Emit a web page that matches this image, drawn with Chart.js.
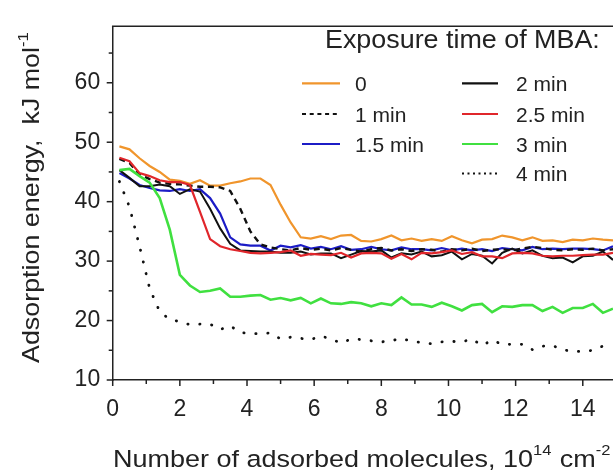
<!DOCTYPE html>
<html><head><meta charset="utf-8">
<script src="https://cdn.jsdelivr.net/npm/chart.js@4/dist/chart.umd.min.js"></script>
<style>html,body{margin:0;padding:0;background:#fff;}canvas{display:block;}</style>
</head><body>
<canvas id="c" width="613" height="471"></canvas>
<script>
// ---- data ----
const coverage = [0.2,0.5,0.8,1.1,1.4,1.7,2.0,2.3,2.6,2.9,3.2,3.5,3.8,4.1,4.4,4.7,5.0,5.3,5.6,5.9,6.2,6.5,6.8,7.1,7.4,7.7,8.0,8.3,8.6,8.9,9.2,9.5,9.8,10.1,10.4,10.7,11.0,11.3,11.6,11.9,12.2,12.5,12.8,13.1,13.4,13.7,14.0,14.3,14.6,14.9];
const energy0min = [49.3,48.8,47.3,46.0,45.0,43.7,43.5,43.0,43.6,42.7, 42.7,43.1,43.4,43.9,43.9,42.8,39.5,36.5,34.0,33.8, 34.2,33.7,34.3,34.4,33.4,33.3,33.7,34.3,33.5,33.8, 33.4,33.7,33.4,34.2,33.5,33.0,33.6,33.7,34.3,34.0, 33.5,34.0,33.4,33.5,33.2,33.6,33.5,33.8,33.6,33.5];
const energy1min = [47.2,46.5,44.6,43.8,43.2,43.0,42.9,42.7,42.5,42.5, 42.4,41.8,38.8,35.0,32.8,32.3,32.0,31.8,32.2,31.9, 32.1,31.8,32.2,31.9,31.6,32.0,32.2,31.8,32.0,31.7, 32.0,31.9,31.6,32.0,31.8,32.1,31.7,31.9,32.0,31.8, 32.1,32.4,32.2,31.9,31.8,32.0,31.9,32.1,31.8,32.0];
const energy15min = [44.8,43.9,42.8,42.3,41.9,41.8,42.1,41.8,42.1,40.6, 38.0,34.0,32.8,32.6,32.6,31.8,32.6,32.3,32.7,32.1, 32.4,32.0,32.5,31.9,32.0,32.4,32.0,31.8,32.3,32.0, 32.0,31.8,32.2,31.8,32.1,31.8,32.0,31.7,32.2,32.0, 31.8,32.4,32.0,32.1,32.0,32.1,32.1,32.0,31.8,32.5];
const energy2min = [45.3,44.0,42.6,42.6,42.9,42.6,41.3,42.1,41.7,38.8, 35.5,32.9,31.8,31.7,31.6,31.6,31.4,31.4,31.6,31.1, 31.3,31.3,30.5,31.1,31.7,31.6,31.8,30.6,31.3,31.1, 31.6,30.8,31.0,31.6,30.3,31.2,30.9,29.6,31.4,32.1, 31.3,31.8,30.9,30.5,30.6,29.8,30.8,30.9,31.6,30.2];
const energy25min = [47.4,46.8,44.8,44.3,43.6,43.3,43.3,42.8,38.3,33.7, 32.5,32.0,31.7,31.4,31.3,31.4,31.5,31.8,30.9,31.2, 31.1,31.0,31.4,30.6,31.3,31.4,31.3,30.4,31.2,30.3, 31.4,31.3,31.5,31.8,31.2,31.5,30.8,30.8,30.5,31.3, 31.4,31.3,30.9,30.8,30.9,30.9,31.0,31.1,31.1,31.4];
const energy3min = [45.3,45.5,44.3,43.2,40.6,35.3,27.7,25.9,24.8,25.0, 25.4,24.0,24.0,24.2,24.3,23.5,23.8,23.4,23.8,22.9, 23.7,22.9,22.8,23.1,22.9,22.4,22.9,22.6,23.9,22.7, 22.7,22.3,23.0,22.4,21.7,22.6,22.8,21.4,22.4,22.3, 22.6,22.6,21.6,22.3,21.3,22.1,22.1,22.8,21.3,22.0];
const energy4min = [43.4,39.1,32.5,25.4,21.5,20.2,19.8,19.3,19.4,19.4, 18.5,19.1,18.0,17.8,17.8,17.9,16.9,17.2,17.0,16.8, 17.4,16.9,16.2,16.9,16.8,16.6,16.4,16.6,17.0,16.5, 16.3,16.1,16.4,16.5,16.4,16.9,15.8,16.7,16.0,16.0, 16.0,15.1,15.7,15.8,15.1,14.8,14.8,15.0,15.7,15.5];
const seriesNames = ['0','1 min','1.5 min','2 min','2.5 min','3 min','4 min'];
const xTicks = [0,2,4,6,8,10,12,14];
const xMinorTicks = [1,3,5,7,9,11,13];
const yTicks = [10,20,30,40,50,60];
const yMinorTicks = [15,25,35,45,55,65];
const legendTitle = 'Exposure time of MBA:';
const xTitleParts = [['Number of adsorbed molecules, 10',false],['14',true],[' cm',false],['-2',true]];
const yTitleParts = [['Adsorption energy,  kJ mol',false],['-1',true]];

// ---- styles ----
const FONT = "'Liberation Sans', Arial, sans-serif";
const styles = [
  {color:'#F0952C', dash:[], width:2.2, cap:'butt', legendDash:[]},
  {color:'#111111', dash:[6,4.7], width:2.4, cap:'butt', legendDash:[4,3.7]},
  {color:'#1C1CC6', dash:[], width:2.2, cap:'butt', legendDash:[]},
  {color:'#111111', dash:[], width:2.0, cap:'butt', legendDash:[]},
  {color:'#E0262B', dash:[], width:2.2, cap:'butt', legendDash:[]},
  {color:'#40E040', dash:[], width:2.6, cap:'butt', legendDash:[]},
  {color:'#111111', dash:[0.3,11.7], width:2.8, cap:'round', legendDash:[2,3.5]}
];
const seriesValues = [energy0min, energy1min, energy15min, energy2min, energy25min, energy3min, energy4min];
const drawOrder = [5,3,4,2,1,0,6]; // lower = on top

const datasets = seriesValues.map((vals,i)=>({
  label: seriesNames[i],
  data: coverage.map((x,k)=>({x:x, y:vals[k]})),
  borderColor: styles[i].color,
  borderWidth: styles[i].width,
  borderDash: styles[i].dash,
  borderCapStyle: styles[i].cap,
  legendDash: styles[i].legendDash,
  pointRadius: 0,
  fill: false,
  tension: 0,
  order: drawOrder[i]
}));

// draws text parts; main (first) part stretched to fit targetW
function drawRich(ctx, parts, size, supSize, raise, targetW){
  ctx.font = size + 'px ' + FONT;
  const sx = targetW / ctx.measureText(parts[0][0]).width;
  let x = 0;
  parts.forEach(([t,sup])=>{
    ctx.font = (sup?supSize:size) + 'px ' + FONT;
    const w = ctx.measureText(t).width;
    ctx.save();
    ctx.scale(sx,1);
    ctx.fillText(t, x/sx, sup ? -raise : 0);
    ctx.restore();
    x += w*sx + (sup?1:0);
  });
}

const decor = {
  id:'decor',
  afterDraw(chart){
    const ctx = chart.ctx, ca = chart.chartArea, xs = chart.scales.x, ys = chart.scales.y;
    ctx.save();
    ctx.strokeStyle = '#222'; ctx.lineWidth = 1.5;
    ctx.beginPath(); ctx.moveTo(ca.left-0.75, ca.top); ctx.lineTo(ca.right, ca.top); ctx.stroke();
    xTicks.concat(xMinorTicks).forEach(v=>{
      const px = xs.getPixelForValue(v);
      const len = xTicks.includes(v) ? 6 : 4;
      ctx.beginPath(); ctx.moveTo(px, ca.bottom); ctx.lineTo(px, ca.bottom+len); ctx.stroke();
    });
    yTicks.concat(yMinorTicks).forEach(v=>{
      const py = ys.getPixelForValue(v);
      const len = yTicks.includes(v) ? 6 : 4;
      ctx.beginPath(); ctx.moveTo(ca.left, py); ctx.lineTo(ca.left-len, py); ctx.stroke();
    });
    // axis titles
    ctx.fillStyle = '#222'; ctx.textBaseline = 'alphabetic'; ctx.textAlign = 'left';
    ctx.save(); ctx.translate(113, 466.5); drawRich(ctx, xTitleParts, 24.5, 15, 12, 420); ctx.restore();
    ctx.save(); ctx.translate(39, 363); ctx.rotate(-Math.PI/2); drawRich(ctx, yTitleParts, 24, 15, 11, 316); ctx.restore();
    // legend
    ctx.save(); ctx.translate(325, 48); ctx.font = '25px ' + FONT; ctx.scale(1.075,1); ctx.fillText(legendTitle, 0, 0); ctx.restore();
    const cols = [{lx0:302, lx1:340, tx:355, idx:[0,1,2]}, {lx0:462, lx1:498, tx:516, idx:[3,4,5,6]}];
    const rows = [83.3, 114, 144, 173.5];
    cols.forEach(c=>{
      c.idx.forEach((di,r)=>{
        const ds = chart.data.datasets[di];
        const y = rows[r];
        ctx.save();
        ctx.strokeStyle = ds.borderColor; ctx.lineWidth = 2.2; ctx.setLineDash(ds.legendDash);
        ctx.beginPath(); ctx.moveTo(c.lx0, y); ctx.lineTo(c.lx1, y); ctx.stroke();
        ctx.restore();
        ctx.font = '21px ' + FONT; ctx.textBaseline = 'middle'; ctx.fillStyle = '#222';
        ctx.fillText(ds.label, c.tx, y+1.8);
      });
    });
    ctx.restore();
  }
};

new Chart(document.getElementById('c'), {
  type: 'line',
  data: { datasets },
  plugins: [decor],
  options: {
    responsive: false, animation: false, devicePixelRatio: 1,
    layout: { padding: { top: 12, right: 0, left: 0, bottom: 0 } },
    plugins: { legend: { display: false }, tooltip: { enabled: false } },
    scales: {
      x: {
        type: 'linear', min: 0, max: 14.9,
        afterFit(s){ s.height = 91; },
        afterBuildTicks(s){ s.ticks = xTicks.map(v=>({value:v})); },
        ticks: { font: { family: FONT, size: 23 }, color: '#222', padding: 16, maxRotation: 0, autoSkip: false },
        grid: { display: false, drawTicks: false },
        border: { display: true, color: '#222', width: 1.5 }
      },
      y: {
        min: 10, max: 69.5,
        afterFit(s){ s.width = 112.7; },
        afterBuildTicks(s){ s.ticks = yTicks.map(v=>({value:v})); },
        ticks: { font: { family: FONT, size: 23 }, color: '#222', padding: 12.5 },
        grid: { display: false, drawTicks: false },
        border: { display: true, color: '#222', width: 1.5 }
      }
    }
  }
});
</script>
</body></html>
